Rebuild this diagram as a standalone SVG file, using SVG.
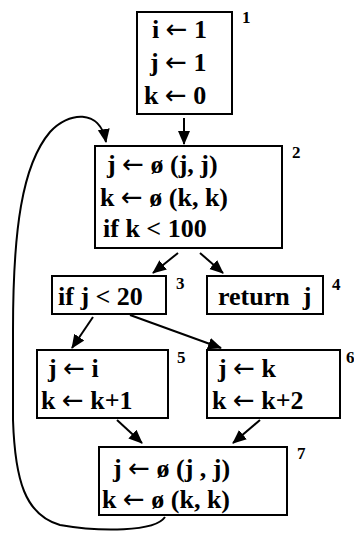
<svg xmlns="http://www.w3.org/2000/svg" width="354" height="533" viewBox="0 0 354 533">
<style>
.box{fill:#fff;stroke:#000;stroke-width:2}
.t{font-family:"Liberation Serif","DejaVu Serif",serif;font-weight:bold;font-size:26px;fill:#000}
.a{font-family:"DejaVu Sans",sans-serif;font-weight:normal;font-size:26px}
.n{font-family:"Liberation Serif","DejaVu Serif",serif;font-weight:bold;font-size:17px;fill:#000}
.c{fill:none;stroke:#000;stroke-width:2}
</style>
<defs>
<marker id="ah" markerUnits="userSpaceOnUse" markerWidth="14" markerHeight="14" viewBox="0 0 14 14" refX="13" refY="7" orient="auto">
<path d="M0,1 L14,7 L0,13 Z" fill="#000"/>
</marker>
</defs>
<g id="connectors">
<line class="c" x1="184" y1="118" x2="184" y2="144" marker-end="url(#ah)"/>
<line class="c" x1="178" y1="253" x2="153" y2="273" marker-end="url(#ah)"/>
<line class="c" x1="200" y1="253" x2="223" y2="273" marker-end="url(#ah)"/>
<line class="c" x1="93" y1="317" x2="72" y2="348" marker-end="url(#ah)"/>
<line class="c" x1="130" y1="315" x2="221" y2="348" marker-end="url(#ah)"/>
<line class="c" x1="117" y1="420" x2="142" y2="443" marker-end="url(#ah)"/>
<line class="c" x1="260" y1="420" x2="233" y2="443" marker-end="url(#ah)"/>
<path class="c" d="M165,517 C155,532 100,532 60,525 C25,515 15,480 13,420 L13,330 C13,230 22,165 50,132 C68,112 100,108 106,142" marker-end="url(#ah)"/>
</g>
<g id="n1">
<rect class="box" x="137" y="12" width="95" height="102"/>
<text class="t" x="152" y="38">i <tspan class="a">←</tspan> 1</text>
<text class="t" x="150" y="71">j <tspan class="a">←</tspan> 1</text>
<text class="t" x="144" y="104">k <tspan class="a">←</tspan> 0</text>
<text class="n" x="242" y="23">1</text>
</g>
<g id="n2">
<rect class="box" x="95" y="146" width="187" height="102"/>
<text class="t" x="107" y="173">j <tspan class="a">←</tspan> ø (j,  j)</text>
<text class="t" x="100" y="206">k <tspan class="a">←</tspan> ø (k, k)</text>
<text class="t" x="103" y="237">if k &lt; 100</text>
<text class="n" x="292" y="158">2</text>
</g>
<g id="n3">
<rect class="box" x="52" y="276" width="114" height="38"/>
<text class="t" x="58" y="305">if j &lt; 20</text>
<text class="n" x="176" y="289">3</text>
</g>
<g id="n4">
<rect class="box" x="207" y="276" width="116" height="38"/>
<text class="t" x="218" y="305" xml:space="preserve">return  j</text>
<text class="n" x="332" y="290">4</text>
</g>
<g id="n5">
<rect class="box" x="37" y="350" width="131" height="68"/>
<text class="t" x="48" y="377">j <tspan class="a">←</tspan> i</text>
<text class="t" x="41" y="409">k <tspan class="a">←</tspan> k+1</text>
<text class="n" x="177" y="363">5</text>
</g>
<g id="n6">
<rect class="box" x="207" y="350" width="133" height="68"/>
<text class="t" x="218" y="377">j <tspan class="a">←</tspan> k</text>
<text class="t" x="212" y="409">k <tspan class="a">←</tspan> k+2</text>
<text class="n" x="346" y="363">6</text>
</g>
<g id="n7">
<rect class="box" x="99" y="447" width="188" height="68"/>
<text class="t" x="113" y="477">j <tspan class="a">←</tspan> ø (j , j)</text>
<text class="t" x="102" y="508">k <tspan class="a">←</tspan> ø (k, k)</text>
<text class="n" x="297" y="459">7</text>
</g>
</svg>
